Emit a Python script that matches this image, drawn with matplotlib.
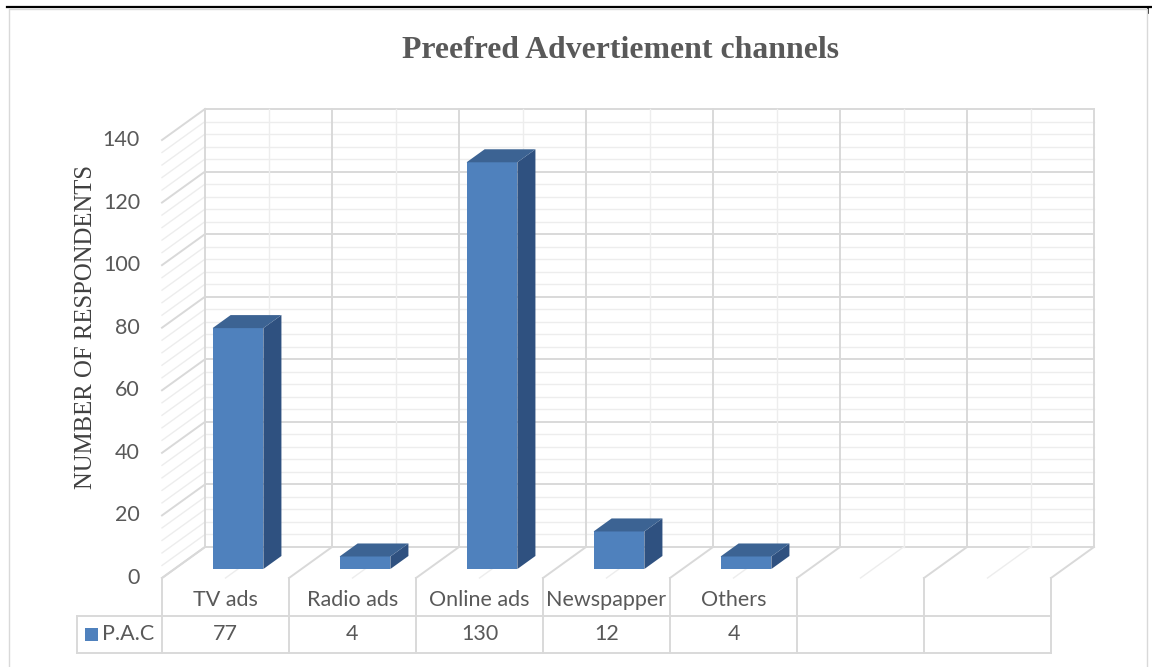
import matplotlib
matplotlib.use("Agg")
import matplotlib.pyplot as plt
from matplotlib.patches import Polygon, Rectangle
from matplotlib.lines import Line2D

categories = ["TV ads", "Radio ads", "Online ads", "Newspapper", "Others"]
values = [77, 4, 130, 12, 4]
series_name = "P.A.C"
n_slots = 7  # excel left two empty category slots
y_ticks = [0, 20, 40, 60, 80, 100, 120, 140]
y_max = 140
minor_step = 4

title = "Preefred Advertiement channels"
y_label = "NUMBER OF RESPONDENTS"

W, H = 1152, 667
# front plane of the fake 3d box, in pixels
x0_px, slot_px = 162, 127
y0_px = 578
unit_px = (578 - 140) / 140
depth_dx = 43 / slot_px          # back wall offset, in data units
depth_dy = 31 / unit_px
d_front, d_back = 0.29, 0.71     # bar position inside the depth
bar_w = 0.4

major_c = "#d9d9d9"
minor_c = "#ededed"
front_c, top_c, side_c = "#4f81bd", "#3c6393", "#2f5180"
text_c = "#595959"


def py(p):
    # pixel row -> data y
    return (y0_px - p) / unit_px


def px(p):
    return (p - x0_px) / slot_px


fig = plt.figure(figsize=(W / 100, H / 100), dpi=100)
ax = fig.add_axes([0, 0, 1, 1])
ax.set_xlim(px(0), px(W))
ax.set_ylim(py(H), py(0))
ax.set_axis_off()

# page frame (chart border runs off the bottom)
fig.add_artist(Line2D([7 / W, 1], [1 - 7 / H, 1 - 7 / H], color="black", lw=1.6))
fig.add_artist(Line2D([1148 / W, 1148 / W], [1 - 7 / H, 1 - 13 / H], color="black", lw=1.2))
fig.add_artist(Line2D([9 / W, 9 / W, 1147 / W, 1147 / W], [0, 1 - 9 / H, 1 - 9 / H, 0],
                      color="#d9d9d9", lw=1.0))

# back wall
for v in range(0, y_max + 1, minor_step):
    c, lw = (major_c, 1.4) if v % 20 == 0 else (minor_c, 1.0)
    ax.plot([depth_dx, n_slots + depth_dx], [v + depth_dy, v + depth_dy], color=c, lw=lw, zorder=1)
    # side wall
    ax.plot([0, depth_dx], [v, v + depth_dy], color=c, lw=lw, zorder=1)
for k in range(2 * n_slots + 1):
    c, lw = (major_c, 1.4) if k % 2 == 0 else (minor_c, 1.0)
    x = k * 0.5
    ax.plot([x + depth_dx, x + depth_dx], [depth_dy, y_max + depth_dy], color=c, lw=lw, zorder=1)
    # floor
    ax.plot([x, x + depth_dx], [0, depth_dy], color=c, lw=lw, zorder=1)

# bars
for i, v in enumerate(values):
    xl = i + 0.5 - bar_w / 2 + d_front * depth_dx
    xr = xl + bar_w
    yb = d_front * depth_dy
    ddx = (d_back - d_front) * depth_dx
    ddy = (d_back - d_front) * depth_dy
    ax.add_patch(Rectangle((xl, yb), bar_w, v, facecolor=front_c, edgecolor="none", zorder=3))
    ax.add_patch(Polygon([(xr, yb), (xr + ddx, yb + ddy), (xr + ddx, yb + v + ddy), (xr, yb + v)],
                         closed=True, facecolor=side_c, edgecolor="none", zorder=3))
    ax.add_patch(Polygon([(xl, yb + v), (xr, yb + v), (xr + ddx, yb + v + ddy), (xl + ddx, yb + v + ddy)],
                         closed=True, facecolor=top_c, edgecolor="none", zorder=3))

# y tick labels
for t in y_ticks:
    ax.text(px(140), t, str(t), ha="right", va="center", fontsize=15.5,
            family="Lato", color=text_c)

# data table
row1, row2 = py(616), py(653)
x_left = px(77)
for k in range(n_slots + 1):
    ax.plot([k, k], [0, row2], color=major_c, lw=1.4, zorder=1)
ax.plot([x_left, n_slots], [row1, row1], color=major_c, lw=1.4)
ax.plot([x_left, n_slots], [row2, row2], color=major_c, lw=1.4)
ax.plot([x_left, x_left], [row1, row2], color=major_c, lw=1.4)
for i, (c, v) in enumerate(zip(categories, values)):
    ax.text(i + 0.5, py(600), c, ha="center", va="center", fontsize=15.5,
            family="Lato", color=text_c)
    ax.text(i + 0.5, py(634), str(v), ha="center", va="center", fontsize=15.5,
            family="Lato", color=text_c)
ax.add_patch(Rectangle((px(85), py(641)), 13 / slot_px, 13 / unit_px,
                       facecolor=front_c, edgecolor="none"))
ax.text(px(102), py(634), series_name, ha="left", va="center", fontsize=15.5,
        family="Lato", color=text_c)

# titles
ax.text(px(620), py(58), title, ha="center", va="baseline", fontsize=22.9,
        family="Liberation Serif", weight="bold", color=text_c)
ax.text(px(86), py(327), y_label, ha="center", va="center", rotation=90,
        fontsize=17.8, family="Liberation Serif", color="#404040")

fig.savefig("out.png", dpi=100)
